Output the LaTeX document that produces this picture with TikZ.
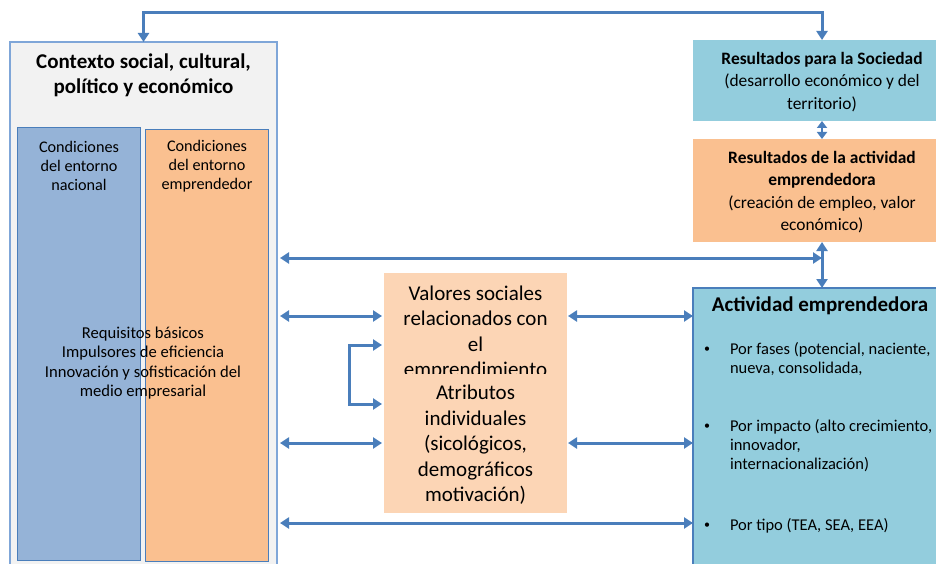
\documentclass[tikz,border=0pt]{standalone}
\usepackage{fontspec}
\setmainfont{Carlito}
\usetikzlibrary{arrows.meta}

\definecolor{lineblue}{HTML}{4A7EBB}
\definecolor{frameblue}{HTML}{7FA6D8}
\definecolor{ctxgray}{HTML}{F2F2F2}
\definecolor{nacblue}{HTML}{95B3D7}
\definecolor{emporange}{HTML}{FAC090}
\definecolor{valorange}{HTML}{FCD5B5}
\definecolor{resblue}{HTML}{93CDDD}

\begin{document}
\begin{tikzpicture}[x=1pt,y=-1pt,
    thick,inner sep=0pt,outer sep=0pt,
    plain box/.style={rectangle,draw=none},
    link arrow/.style={draw=lineblue,line width=3pt,{Triangle[length=9pt,width=11pt]}-{Triangle[length=9pt,width=11pt]}},
    big text/.style={font=\fontsize{21}{25.5}\selectfont,align=center},
    mid text/.style={font=\fontsize{17.4}{22.3}\selectfont,align=center},
    small text/.style={font=\fontsize{16.2}{19.3}\selectfont,align=center},
    item text/.style={font=\fontsize{16.5}{19}\selectfont,align=left,anchor=west}]

  \useasboundingbox (0,0) rectangle (936,564);
  \clip (0,0) rectangle (936,564);

  % boxes
  \node[plain box,fill=ctxgray,draw=frameblue,line width=1.5pt,minimum width=267pt,minimum height=548pt] (ctx) at (143.5,316) {};
  \node[plain box,fill=nacblue,draw=lineblue,line width=1pt,minimum width=123pt,minimum height=432pt] (nac) at (78.5,344) {};
  \node[plain box,fill=emporange,draw=lineblue,line width=1pt,minimum width=123pt,minimum height=431pt] (emp) at (206.5,345.5) {};
  \node[plain box,fill=valorange,minimum width=183pt,minimum height=240pt] (val) at (475.5,393) {};
  \node[plain box,fill=resblue,minimum width=258pt,minimum height=81pt] (soc) at (822,80.5) {};
  \node[plain box,fill=emporange,minimum width=258pt,minimum height=103pt] (res) at (822,190.5) {};
  \node[plain box,fill=resblue,draw=lineblue,line width=1.5pt,minimum width=258pt,minimum height=312pt] (act) at (822,444) {};

  % texts
  \node[big text,font=\fontsize{21}{25}\selectfont\bfseries] (ctxtitle) at (143.5,75) {Contexto social, cultural,\\político y económico};
  \node[small text] (nactext) at (79,166) {Condiciones\\del entorno\\nacional};
  \node[small text] (emptext) at (207,166) {Condiciones\\del entorno\\emprendedor};
  \node[small text,font=\fontsize{16.6}{19.5}\selectfont] (req) at (143,363) {Requisitos básicos\\Impulsores de eficiencia\\Innovación y sofisticación del\\medio empresarial};
  \begin{scope}
    \clip (val.north west) rectangle (val.east |- 0,373);
    \node[big text] (valtext) at (475.5,333) {Valores sociales\\relacionados con\\el\\emprendimiento};
  \end{scope}
  \node[big text] (atrtext) at (475.5,445) {Atributos\\individuales\\(sicológicos,\\demográficos\\motivación)};
  \node[mid text] (soctext) at (822,82) {\textbf{Resultados para la Sociedad}\\(desarrollo económico y del\\territorio)};
  \node[mid text] (restext) at (822,192) {\textbf{Resultados de la actividad}\\\textbf{emprendedora}\\(creación de empleo, valor\\económico)};
  \node[big text,font=\fontsize{21}{25}\selectfont\bfseries] (acttitle) at (820,306) {Actividad emprendedora};
  \node[item text,font=\fontsize{12}{14}\selectfont] (b1) at (704,350) {•};
  \node[item text] (fases) at (730,359) {Por fases (potencial, naciente,\\nueva, consolidada,};
  \node[item text,font=\fontsize{12}{14}\selectfont] (b2) at (704,427) {•};
  \node[item text] (impacto) at (730,446) {Por impacto (alto crecimiento,\\innovador,\\internacionalización)};
  \node[item text,font=\fontsize{12}{14}\selectfont] (b3) at (704,526) {•};
  \node[item text] (tipo) at (730,526) {Por tipo (TEA, SEA, EEA)};

  % connectors
  \coordinate (topline) at (0,13);
  \coordinate (row1) at (0,258);
  \coordinate (row2) at (0,316);
  \coordinate (row3) at (0,443);
  \coordinate (row4) at (0,523);
  \coordinate (bk1) at (0,345);
  \coordinate (bk2) at (0,404);

  \draw[link arrow] (ctx.north) -- (ctx.north |- topline) -| (soc.north);
  \draw[link arrow,{Triangle[length=7pt,width=10pt]}-{Triangle[length=7pt,width=10pt]},line width=2.5pt] (soc.south) -- (res.north);
  \draw[link arrow] (res.south) -- (act.north);
  \draw[link arrow,shorten <=3pt] (ctx.east |- row1) -- (act.north |- row1);
  \draw[link arrow,shorten <=3pt,shorten >=2pt] (ctx.east |- row2) -- (val.west |- row2);
  \draw[link arrow,shorten <=1pt] (val.east |- row2) -- (act.west |- row2);
  \draw[link arrow,shorten <=2pt,shorten >=2pt] (val.west |- bk1) -- ++(-35,0) |- (val.west |- bk2);
  \draw[link arrow,shorten <=3pt,shorten >=2pt] (ctx.east |- row3) -- (val.west |- row3);
  \draw[link arrow,shorten <=1pt] (val.east |- row3) -- (act.west |- row3);
  \draw[link arrow,shorten <=3pt] (ctx.east |- row4) -- (act.west |- row4);
\end{tikzpicture}
\end{document}
